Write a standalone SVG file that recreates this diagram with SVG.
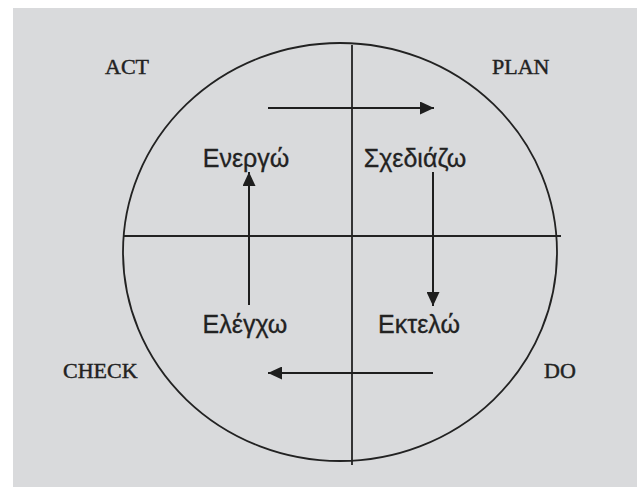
<svg xmlns="http://www.w3.org/2000/svg" width="637" height="487" viewBox="0 0 637 487">
<style>
.ln{stroke:#222;stroke-width:1.8;fill:none}
.ar{stroke:#1e1e1e;stroke-width:2;fill:none}
.lbl{font-family:"Liberation Serif","Times New Roman",serif;font-size:22px;fill:#222;stroke:#222;stroke-width:0.45}
.gr{font-family:"Liberation Sans",Arial,sans-serif;font-size:25px;fill:#222;stroke:#222;stroke-width:0.3}
</style>
<defs>
<marker id="ah" markerWidth="14" markerHeight="13" refX="14" refY="6.5" orient="auto" markerUnits="userSpaceOnUse">
<path d="M0,0 L14,6.5 L0,13 Z" fill="#1e1e1e"/>
</marker>
</defs>
<rect x="0" y="0" width="637" height="487" fill="#ffffff"/>
<rect x="13" y="8" width="624" height="479" fill="#d9dadc"/>
<g id="frame">
<ellipse class="ln" cx="340" cy="252" rx="217" ry="209"/>
<line class="ln" x1="352" y1="45" x2="352" y2="465"/>
<line class="ln" x1="123" y1="236" x2="561" y2="236"/>
</g>
<g id="connectors">
<line class="ar" x1="268" y1="108" x2="434" y2="108" marker-end="url(#ah)"/>
<line class="ar" x1="433" y1="172" x2="433" y2="306" marker-end="url(#ah)"/>
<line class="ar" x1="433" y1="373" x2="268" y2="373" marker-end="url(#ah)"/>
<line class="ar" x1="249" y1="305" x2="249" y2="172" marker-end="url(#ah)"/>
</g>
<g id="act"><text class="lbl" x="105" y="74">ACT</text></g>
<g id="plan"><text class="lbl" x="492" y="74">PLAN</text></g>
<g id="check"><text class="lbl" x="63" y="378">CHECK</text></g>
<g id="do"><text class="lbl" x="544" y="378">DO</text></g>
<g id="energo"><text class="gr" x="246" y="167" text-anchor="middle">Ενεργώ</text></g>
<g id="schediazo"><text class="gr" x="415" y="167" text-anchor="middle">Σχεδιάζω</text></g>
<g id="elegcho"><text class="gr" x="245" y="333" text-anchor="middle">Ελέγχω</text></g>
<g id="ektelo"><text class="gr" x="419" y="333" text-anchor="middle">Εκτελώ</text></g>
</svg>
